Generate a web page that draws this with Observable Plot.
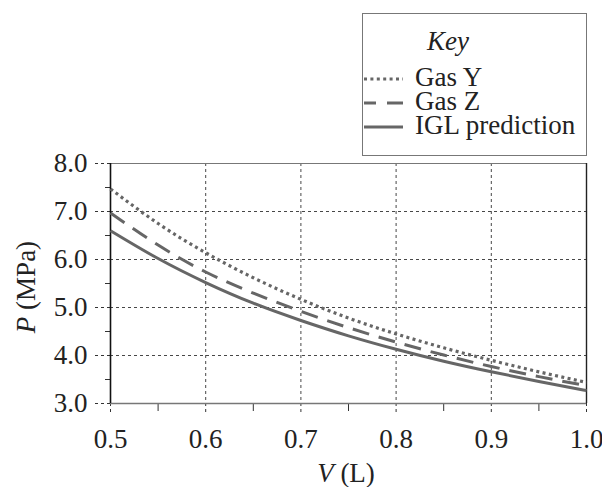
<!DOCTYPE html>
<html><head><meta charset="utf-8">
<script src="https://cdn.jsdelivr.net/npm/d3@7"></script>
<script src="https://cdn.jsdelivr.net/npm/@observablehq/plot@0.6"></script>
<style>
body{margin:0;background:#fff;}
#wrap{position:relative;width:602px;height:487px;font-family:"Liberation Serif","DejaVu Serif","Times New Roman",Times,serif;color:#222;}
#legend{position:absolute;left:362px;top:13px;width:223px;height:141px;border:1px solid #777;background:#fff;}
#legend .t{position:absolute;font-size:27px;line-height:24px;white-space:nowrap;}
#legend svg{position:absolute;left:0;top:0;}
.lab{position:absolute;font-size:27px;line-height:30px;white-space:nowrap;}
svg text{font-family:"Liberation Serif","DejaVu Serif","Times New Roman",Times,serif;}
</style></head>
<body><div id="wrap"></div>
<script>
const volumes = [0.5, 0.55, 0.6, 0.65, 0.7, 0.75, 0.8, 0.85, 0.9, 0.95, 1.0];
const gasY = [7.47, 6.75, 6.14, 5.62, 5.17, 4.78, 4.45, 4.16, 3.90, 3.66, 3.44];
const gasZ = [6.97, 6.30, 5.74, 5.30, 4.92, 4.58, 4.28, 4.01, 3.77, 3.56, 3.37];
const igl  = [6.60, 6.02, 5.52, 5.09, 4.73, 4.41, 4.13, 3.88, 3.66, 3.46, 3.27];
const seriesNames = ["Gas Y", "Gas Z", "IGL prediction"];
const xTicks = [0.5, 0.6, 0.7, 0.8, 0.9, 1.0];
const xMinor = [0.55, 0.65, 0.75, 0.85, 0.95];
const yTicks = [3, 4, 5, 6, 7, 8];
const yMinor = [3.5, 4.5, 5.5, 6.5, 7.5];

const curveStroke = "#666";
const styles = {
  "Gas Y": {dash: "3,3.4", width: 3.2},
  "Gas Z": {dash: "17,10", width: 3},
  "IGL prediction": {dash: null, width: 3}
};
const seriesValues = [gasY, gasZ, igl];
const rows = seriesNames.map((name, i) => volumes.map((v, j) => ({V: v, P: seriesValues[i][j], series: name})));

const serif = '"Liberation Serif","DejaVu Serif","Times New Roman",Times,serif';
const fmt = d3.format(".1f");
const chart = Plot.plot({
  width: 602, height: 487,
  marginLeft: 110, marginRight: 16, marginTop: 163, marginBottom: 84,
  style: {fontFamily: serif, color: "#222", background: "transparent"},
  x: {domain: [0.5, 1.0], label: null},
  y: {domain: [3, 8], label: null},
  marks: [
    Plot.gridX(xTicks, {stroke: "#333", strokeOpacity: 0.9, strokeDasharray: "3,3", strokeWidth: 1}),
    Plot.gridY(yTicks, {stroke: "#333", strokeOpacity: 0.9, strokeDasharray: "3,3", strokeWidth: 1}),
    Plot.axisX(xTicks, {tickSize: 12, tickPadding: 13, tickFormat: fmt, fontSize: 27, fontFamily: serif, strokeDasharray: "3,3", stroke: "#333", label: null}),
    Plot.axisX(xMinor, {tickSize: 8, tickFormat: () => "", stroke: "#333", label: null}),
    Plot.axisY(yTicks, {tickSize: 17, tickPadding: 6, tickFormat: fmt, fontSize: 27, fontFamily: serif, strokeDasharray: "3,3", stroke: "#333", label: null}),
    Plot.axisY(yMinor, {tickSize: 5, tickFormat: () => "", stroke: "#333", label: null}),
    Plot.ruleY([3], {stroke: "#777", strokeWidth: 1.5}),
    Plot.ruleY([8], {stroke: "#777", strokeWidth: 1.2}),
    Plot.ruleX([0.5], {stroke: "#111", strokeWidth: 1.6}),
    Plot.ruleX([1.0], {stroke: "#222", strokeWidth: 1.4}),
    ...rows.map((r, i) => Plot.line(r, {
      x: "V", y: "P", curve: "natural",
      stroke: curveStroke, strokeWidth: styles[seriesNames[i]].width,
      strokeDasharray: styles[seriesNames[i]].dash || undefined,
      strokeLinecap: "butt"
    }))
  ]
});
const wrap = document.getElementById("wrap");
wrap.appendChild(chart);
chart.style.position = "absolute";
chart.style.left = "0";
chart.style.top = "0";

// axis labels
const xl = document.createElement("div");
xl.className = "lab";
xl.style.left = "246px"; xl.style.width = "200px"; xl.style.textAlign = "center"; xl.style.top = "458px";
xl.innerHTML = "<i>V</i> (L)";
wrap.appendChild(xl);
const yl = document.createElement("div");
yl.className = "lab";
yl.style.left = "26px"; yl.style.top = "287px";
yl.style.transform = "translate(-50%,-50%) rotate(-90deg)";
yl.innerHTML = "<i>P</i> (MPa)";
wrap.appendChild(yl);

// legend
const lg = document.createElement("div");
lg.id = "legend";
wrap.appendChild(lg);
const key = document.createElement("div");
key.className = "t";
key.style.left = "35px"; key.style.width = "100px"; key.style.textAlign = "center"; key.style.top = "15px";
key.innerHTML = "<i>Key</i>";
lg.appendChild(key);
const rowY = [63, 87, 111];
const ns = "http://www.w3.org/2000/svg";
const sv = document.createElementNS(ns, "svg");
sv.setAttribute("width", 60); sv.setAttribute("height", 141);
lg.appendChild(sv);
seriesNames.forEach((name, i) => {
  const t = document.createElement("div");
  t.className = "t";
  t.style.left = "52px"; t.style.top = (rowY[i] - 12) + "px";
  t.textContent = name;
  lg.appendChild(t);
  const ln = document.createElementNS(ns, "line");
  ln.setAttribute("x1", 1); ln.setAttribute("x2", 40);
  ln.setAttribute("y1", rowY[i] + 2); ln.setAttribute("y2", rowY[i] + 2);
  ln.setAttribute("stroke", curveStroke);
  ln.setAttribute("stroke-width", styles[name].width);
  if (styles[name].dash) ln.setAttribute("stroke-dasharray", name === "Gas Z" ? "12,11,18" : styles[name].dash);
  sv.appendChild(ln);
});
</script></body></html>
